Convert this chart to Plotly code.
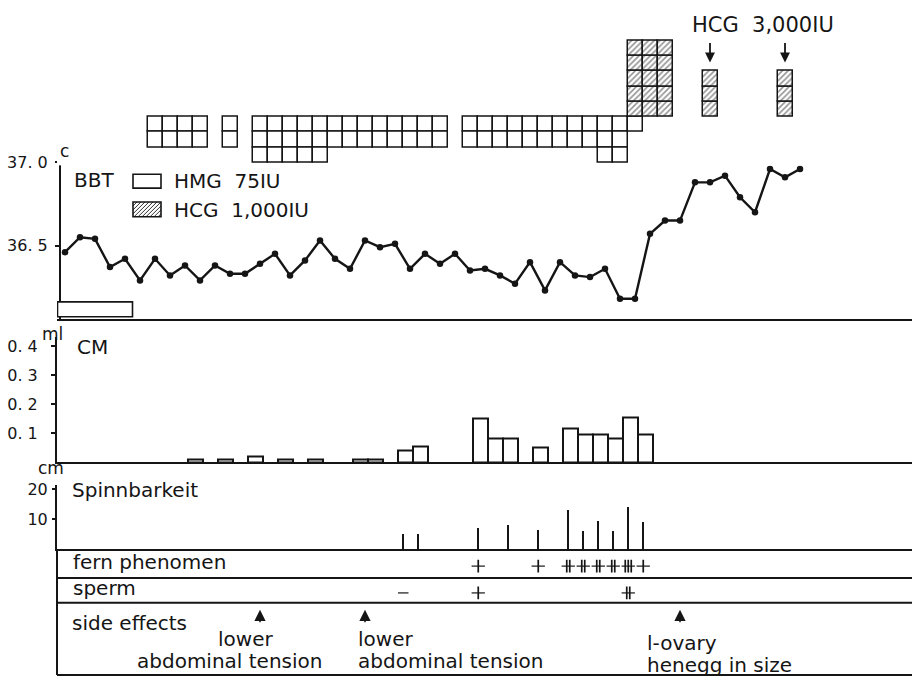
import plotly.graph_objects as go

# ---------------------------------------------------------------- data
days = list(range(1, 51))
bbt = [36.46, 36.55, 36.54, 36.37, 36.42, 36.29, 36.42, 36.32, 36.38, 36.29,
       36.38, 36.33, 36.33, 36.39, 36.45, 36.32, 36.41, 36.53, 36.42, 36.36,
       36.53, 36.49, 36.51, 36.36, 36.45, 36.39, 36.45, 36.35, 36.36, 36.32,
       36.27, 36.40, 36.23, 36.40, 36.32, 36.31, 36.36, 36.18, 36.18, 36.57,
       36.65, 36.65, 36.88, 36.88, 36.92, 36.79, 36.70, 36.96, 36.91, 36.96]
menses_days = [1, 2, 3, 4, 5]

# ampoules per day (HMG 75IU squares, HCG 1,000IU hatched squares)
hmg_days = [7, 8, 9, 10, 12, 14, 15, 16, 17, 18, 19, 20, 21, 22, 23, 24, 25, 26,
            28, 29, 30, 31, 32, 33, 34, 35, 36, 37, 38, 39]
hmg_ampoules = [2, 2, 2, 2, 2, 3, 3, 3, 3, 3, 2, 2, 2, 2, 2, 2, 2, 2,
                2, 2, 2, 2, 2, 2, 2, 2, 2, 3, 3, 1]
hcg_days = [39, 40, 41, 44, 49]
hcg_ampoules = [5, 5, 5, 3, 3]

cm_days = [10, 12, 14, 16, 18, 21, 22, 24, 25, 29, 30, 31, 33, 35, 36, 37, 38, 39, 40]
cm_ml = [0.01, 0.01, 0.02, 0.01, 0.01, 0.01, 0.01, 0.04, 0.055, 0.15, 0.08, 0.08,
         0.05, 0.115, 0.095, 0.095, 0.08, 0.155, 0.095]

spinn_days = [24, 25, 29, 31, 33, 35, 36, 37, 38, 39, 40]
spinn_cm = [5, 5, 7, 8, 6.5, 13, 6, 9.5, 6, 14, 9]

fern_days = [29, 33, 35, 36, 37, 38, 39, 40]
fern_grade = [1, 1, 2, 2, 2, 2, 3, 1]
sperm_days = [24, 29, 39]
sperm_grade = [0, 1, 2]

side_effect_days = [14, 21, 42]

bbt_ticks = [36.5, 37.0]
bbt_tick_text = ["36. 5", "37. 0"]
cm_ticks = [0.1, 0.2, 0.3, 0.4]
cm_tick_text = ["0. 1", "0. 2", "0. 3", "0. 4"]
spinn_ticks = [10, 20]
spinn_tick_text = ["10", "20"]

# ---------------------------------------------------------------- layout helpers
W, H = 912, 677
L = 57
FONT = "DejaVu Sans"
INK = "#151515"


def px_x(p):
    return (p - L) / (W - L)


def px_y(p):
    return 1 - p / H


def dom(top, bottom):
    return [px_y(bottom), px_y(top)]


# day d sits at pixel 50 + 15 d
DAY_PX = 15.0
day_range = [(L - 50) / DAY_PX, (W - 50) / DAY_PX]


def shifted(r, s):
    return [r[0] + s, r[1] + s]


fig = go.Figure()

# ---- dosing squares above the temperature curve
wx, wb = [], []
for d, n in zip(hmg_days, hmg_ampoules):
    for k in range(n):
        wx.append(d)
        wb.append(-(k + 1))
fig.add_trace(go.Bar(x=wx, y=[1] * len(wx), base=wb, width=1, xaxis="x", yaxis="y4",
                     marker=dict(color="white", line=dict(color=INK, width=1.5))))
hx, hb = [], []
for d, n in zip(hcg_days, hcg_ampoules):
    for k in range(n):
        hx.append(d)
        hb.append(k)
fig.add_trace(go.Bar(x=hx, y=[1] * len(hx), base=hb, width=1, xaxis="x", yaxis="y4",
                     marker=dict(color="white", line=dict(color=INK, width=1.5),
                                 pattern=dict(shape="/", fgcolor="#2a2a2a", bgcolor="white",
                                              size=4, solidity=0.4, fillmode="overlay"))))

# ---- BBT curve
fig.add_trace(go.Scatter(x=days, y=bbt, mode="lines+markers", xaxis="x", yaxis="y",
                         line=dict(color=INK, width=2.4),
                         marker=dict(color=INK, size=6.5), cliponaxis=False))

# ---- cervical mucus volume
fig.add_trace(go.Bar(x=cm_days, y=cm_ml, width=1.0, xaxis="x2", yaxis="y2",
                     marker=dict(color="white", line=dict(color=INK, width=2))))

# ---- Spinnbarkeit
fig.add_trace(go.Bar(x=spinn_days, y=spinn_cm, width=0.13, xaxis="x3", yaxis="y3",
                     marker=dict(color=INK, line=dict(width=0))))

# ---- fern / sperm grades drawn as +, ++, +++ (and - for none)
TICK_SEP = 0.2
BAR_SIZE, MINUS_SIZE, STEM_SIZE = 9.5, 7.5, 9


def grade_marks(dlist, glist, row):
    hx_, hy_, hs_, vx_, vy_ = [], [], [], [], []
    for d, g in zip(dlist, glist):
        hx_.append(d)
        hy_.append(row)
        hs_.append(BAR_SIZE if g > 0 else MINUS_SIZE)
        for i in range(g):
            vx_.append(d + (i - (g - 1) / 2) * TICK_SEP)
            vy_.append(row)
    return hx_, hy_, hs_, vx_, vy_


for dl, gl, row in [(fern_days, fern_grade, 2), (sperm_days, sperm_grade, 1)]:
    a, b, s, c, e = grade_marks(dl, gl, row)
    fig.add_trace(go.Scatter(x=a, y=b, mode="markers", xaxis="x4", yaxis="y5",
                             marker=dict(symbol="line-ew", size=s,
                                         line=dict(color=INK, width=1.7))))
    fig.add_trace(go.Scatter(x=c, y=e, mode="markers", xaxis="x4", yaxis="y5",
                             marker=dict(symbol="line-ns", size=STEM_SIZE,
                                         line=dict(color=INK, width=1.7))))

# ---------------------------------------------------------------- axes
hidden_x = dict(showticklabels=False, ticks="", showgrid=False, zeroline=False,
                showline=True, linecolor=INK, linewidth=2)
ROW_PX = 15.4
BASE_PX = 111
BBT_TOP_PX, BBT_PER_DEG = 157, 168
CM_PER_ML = 293
SP_PER_CM = 3.05
tick_font = dict(family=FONT, size=16, color=INK)

fig.update_layout(
    width=W, height=H, margin=dict(l=L, r=0, t=0, b=0, pad=0),
    paper_bgcolor="white", plot_bgcolor="white", showlegend=False,
    barmode="overlay", bargap=0,
    font=dict(family=FONT, size=20, color=INK),
    xaxis=dict(range=day_range, anchor="y", **hidden_x),
    xaxis2=dict(range=shifted(day_range, 0.3), anchor="y2", **hidden_x),
    xaxis3=dict(range=shifted(day_range, 0.45), anchor="y3", **hidden_x),
    xaxis4=dict(range=shifted(day_range, 0.45), anchor="y5", visible=False),
    yaxis4=dict(domain=dom(20, 160),
                range=[-(160 - BASE_PX) / ROW_PX, (BASE_PX - 20) / ROW_PX],
                visible=False, anchor="x"),
    yaxis=dict(domain=dom(155, 315), anchor="free", position=px_x(60),
               range=[37 - (315 - BBT_TOP_PX) / BBT_PER_DEG, 37 + (BBT_TOP_PX - 155) / BBT_PER_DEG],
               tickvals=bbt_ticks, ticktext=bbt_tick_text, ticks="outside", ticklen=4,
               tickwidth=1.5, tickcolor=INK, tickfont=tick_font, ticklabelstandoff=4,
               showline=True, linecolor=INK, linewidth=2, showgrid=False, zeroline=False),
    yaxis2=dict(domain=dom(333, 460), anchor="x2", range=[0, (460 - 333) / CM_PER_ML],
                tickvals=cm_ticks, ticktext=cm_tick_text, ticks="outside", ticklen=4,
                tickwidth=1.5, tickcolor=INK, tickfont=tick_font, ticklabelstandoff=10,
                showline=True, linecolor=INK, linewidth=2, showgrid=False, zeroline=False),
    yaxis3=dict(domain=dom(483, 548), anchor="x3", range=[0, (548 - 483) / SP_PER_CM],
                tickvals=spinn_ticks, ticktext=spinn_tick_text, ticks="outside", ticklen=3,
                tickwidth=1.5, tickcolor=INK, tickfont=tick_font, ticklabelstandoff=1,
                showline=True, linecolor=INK, linewidth=2, showgrid=False, zeroline=False),
    yaxis5=dict(domain=dom(548, 677), anchor="x4",
                range=[1 - (677 - 592) / 27, 2 + (565 - 548) / 27], visible=False),
)

# ---------------------------------------------------------------- shapes
shapes = []
line_style = dict(color=INK, width=2)
for yy in (577, 602, 675):
    shapes.append(dict(type="line", xref="paper", yref="paper", x0=0, x1=1,
                       y0=px_y(yy), y1=px_y(yy), line=line_style))
shapes.append(dict(type="line", xref="paper", yref="paper", x0=0, x1=0,
                   y0=px_y(548), y1=px_y(675), line=line_style))
# menstruation bar under the curve
shapes.append(dict(type="rect", xref="x", yref="paper",
                   x0=min(menses_days) - 0.5, x1=max(menses_days) + 0.5,
                   y0=px_y(313), y1=px_y(298), fillcolor="white",
                   line=dict(color=INK, width=1.6)))
# legend keys
shapes.append(dict(type="rect", xref="paper", yref="paper", x0=px_x(133), x1=px_x(161),
                   y0=px_y(183), y1=px_y(169), fillcolor="white", line=dict(color=INK, width=1.6)))


def hatch_path(x0, y0, x1, y1, step=4):
    w, h = x1 - x0, y1 - y0
    segs = []
    t = -h
    while t < w:
        s0, s1 = max(0, -t), min(h, w - t)
        if s1 > s0:
            segs.append("M{:.5f},{:.5f}L{:.5f},{:.5f}".format(
                px_x(x0 + t + s0), px_y(y1 - s0), px_x(x0 + t + s1), px_y(y1 - s1)))
        t += step
    return "".join(segs)


shapes.append(dict(type="path", xref="paper", yref="paper",
                   path=hatch_path(133, 197, 161, 212), line=dict(color="#333", width=1)))
shapes.append(dict(type="rect", xref="paper", yref="paper", x0=px_x(133), x1=px_x(161),
                   y0=px_y(212), y1=px_y(197), line=dict(color=INK, width=1.6)))
fig.update_layout(shapes=shapes)

# ---------------------------------------------------------------- text
NB = "\u00a0"


def label(text, x, y, size=20, anchor="left"):
    return dict(text=text, xref="paper", yref="paper", x=px_x(x), y=px_y(y),
                xanchor=anchor, yanchor="middle", showarrow=False,
                font=dict(family=FONT, size=size, color=INK))


ann = [
    label("BBT", 72, 175),
    label("HMG" + NB * 2 + "75IU", 172, 176),
    label("HCG" + NB * 2 + "1,000IU", 172, 205),
    label("HCG" + NB * 2 + "3,000IU", 690, 18, 21),
    label("c", 64, 145, 17, "center"),
    label("CM", 75, 344),
    label("ml", 52, 330, 17, "center"),
    label("Spinnbarkeit", 70, 488),
    label("cm", 51, 466, 17, "center"),
    label("fern" + NB + "phenomen", 71, 561),
    label("sperm", 71, 587),
    label("side" + NB + "effects", 70, 622),
    label("lower", 216, 639),
    label("abdominal" + NB + "tension", 135, 661),
    label("lower", 356, 639),
    label("abdominal" + NB + "tension", 356, 661),
    label("l-ovary", 645, 643),
    label("henegg" + NB + "in" + NB + "size", 645, 665),
]
# arrows marking the 3,000IU HCG days
for d, n in zip(hcg_days, hcg_ampoules):
    if n == 3:
        ann.append(dict(x=d, y=px_y(56), xref="x", yref="paper", text="", showarrow=True,
                        ax=0, ay=-21, arrowhead=2, arrowsize=1.1, arrowwidth=1.8,
                        arrowcolor=INK))
# arrows marking side effects
for d in side_effect_days:
    ann.append(dict(x=d, y=px_y(609), xref="x", yref="paper", text="", showarrow=True,
                    ax=0, ay=14, arrowhead=2, arrowsize=1.5, arrowwidth=1.5,
                    arrowcolor=INK))
fig.update_layout(annotations=ann)

fig.write_html("out.html")
